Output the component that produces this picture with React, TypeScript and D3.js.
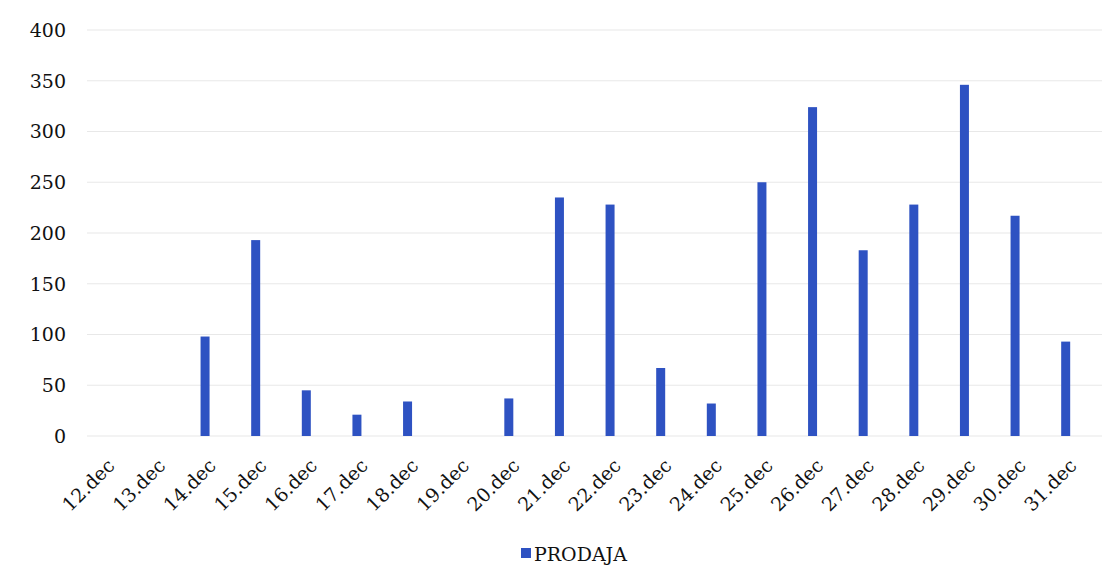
import React from "react";
import * as d3 from "d3";

const categories = ["12.dec","13.dec","14.dec","15.dec","16.dec","17.dec","18.dec","19.dec","20.dec","21.dec","22.dec","23.dec","24.dec","25.dec","26.dec","27.dec","28.dec","29.dec","30.dec","31.dec"];
const prodaja = [0, 0, 98, 193, 45, 21, 34, 0, 37, 235, 228, 67, 32, 250, 324, 183, 228, 346, 217, 93];
const yTicks = [0, 50, 100, 150, 200, 250, 300, 350, 400];
const seriesName = "PRODAJA";

const W = 1115, H = 587;
const barColor = "#2e52c2";
const font = "'DejaVu Serif', serif";

export default function App() {
  const x = d3.scaleBand<string>().domain(categories).range([78.5, 1091]).paddingInner(0.82).paddingOuter(0.41);
  const y = d3.scaleLinear().domain([0, 400]).range([436, 30]);
  return (
    <svg width={W} height={H} style={{ position: "absolute", left: 0, top: 0, background: "#fff" }}>
      {yTicks.map((t) => (
        <g key={t}>
          <line x1={87} x2={1102} y1={y(t)} y2={y(t)} stroke="#e8e8e8" strokeWidth={1.2} />
          <text x={66} y={y(t)} dy="0.36em" textAnchor="end" fontFamily={font} fontSize={19} fill="#111">{t}</text>
        </g>
      ))}
      {categories.map((c, i) => {
        const cx = (x(c) as number) + x.bandwidth() / 2;
        return (
          <g key={c}>
            {prodaja[i] > 0 && (
              <rect x={cx - 4.5} width={9} y={y(prodaja[i])} height={y(0) - y(prodaja[i])} fill={barColor} />
            )}
            <text transform={`translate(${cx + 12},${467}) rotate(-45)`} textAnchor="end" fontFamily={font} fontSize={19} fill="#111">{c}</text>
          </g>
        );
      })}
      <rect x={521} y={548} width={10} height={10} fill={barColor} />
      <text x={534} y={561} fontFamily={font} fontSize={19} fill="#111">{seriesName}</text>
    </svg>
  );
}
